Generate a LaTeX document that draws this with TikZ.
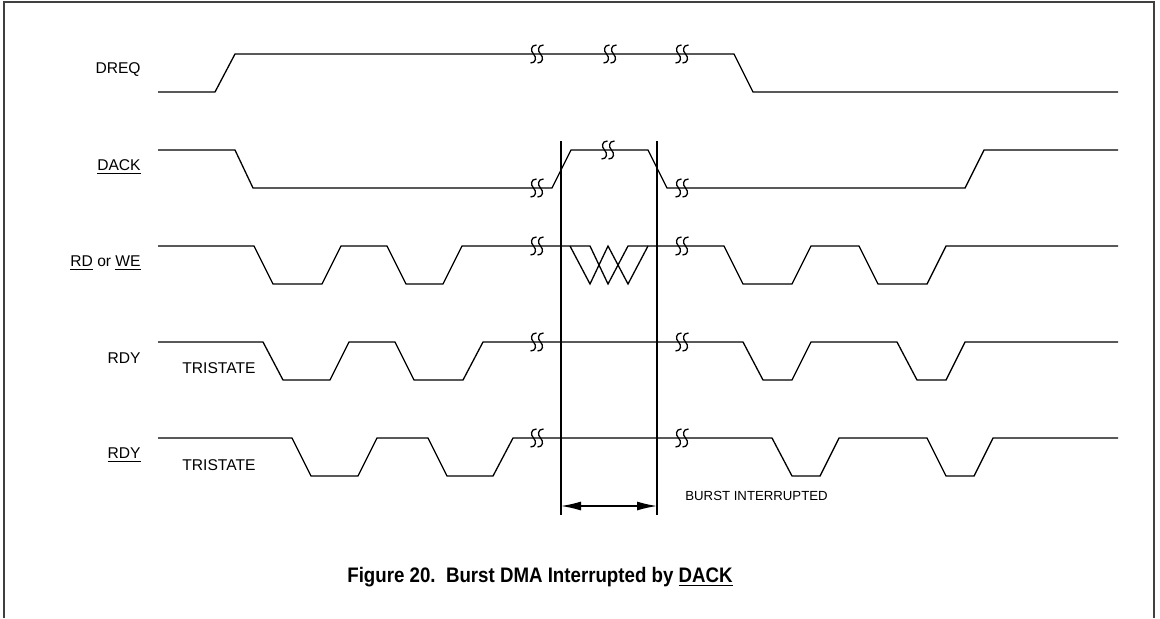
\documentclass[tikz,border=0pt]{standalone}
\usepackage{fontspec}
\usepackage{graphicx}
\setmainfont{Liberation Sans}
\usetikzlibrary{positioning,arrows.meta,calc}

% break mark on a signal line
\newcommand{\cutmark}[1]{%
  \foreach \dx in {-3.5,3.5}{
    \draw[wave] ($(#1)+(\dx,0)+(3,-9)$) .. controls ($(#1)+(\dx,0)+(-3,-9)$) and ($(#1)+(\dx,0)+(-3,-3)$) .. ($(#1)+(\dx,0)$)
      .. controls ($(#1)+(\dx,0)+(3,3)$) and ($(#1)+(\dx,0)+(3,9)$) .. ($(#1)+(\dx,0)+(-3,9)$);}}

\begin{document}
\begin{tikzpicture}[x=0.5pt, y=-0.5pt, >=Stealth,
  wave/.style={line width=0.65pt, black},
  sig/.style={font=\fontsize{7.8}{9}\selectfont, inner sep=0pt, anchor=east},
  note/.style={font=\fontsize{7.8}{9}\selectfont, inner sep=0pt, anchor=west},
  frame/.style={line width=0.75pt, black!75}]
  \useasboundingbox (0,0) rectangle (1160,618);
  \draw[frame] (4,618) -- (4,2) -- (1154,2) -- (1154,618);

  % signal names
  \node[sig] (dreq) at (141,70)  {DREQ};
  \node[sig] (dack) at (141,167) {\underline{DACK}};
  \node[sig] (rdwe) at (141,263) {\underline{RD} or \underline{WE}};
  \node[sig] (rdy)  at (141,358) {RDY};
  \node[note] (tri1) at (182,368) {TRISTATE};
  \node[sig] (nrdy) at (141,455) {\underline{RDY}};
  \node[note] (tri2) at (182,465) {TRISTATE};

  % waveforms
  \draw[wave] (158,92) -- (215,92) -- (235,54) -- (734,54) -- (753,92) -- (1118,92);
  \draw[wave] (158,150) -- (235,150) -- (253,188) -- (552,188) -- (571,150) -- (648,150)
    -- (667,188) -- (965,188) -- (984,150) -- (1118,150);
  \draw[wave] (158,246) -- (254,246) -- (273,284) -- (322,284) -- (341,246) -- (387,246)
    -- (406,284) -- (443,284) -- (462,246) -- (590,246) -- (608,284) -- (628,246)
    -- (724,246) -- (743,284) -- (792,284) -- (811,246) -- (859,246) -- (878,284)
    -- (927,284) -- (946,246) -- (1118,246);
  \draw[wave] (570,246) -- (590,284) -- (608,246) -- (628,284) -- (648,246);
  \draw[wave] (158,342) -- (263,342) -- (283,380) -- (330,380) -- (349,342) -- (395,342)
    -- (414,380) -- (463,380) -- (483,342) -- (743,342) -- (763,380) -- (792,380)
    -- (811,342) -- (897,342) -- (917,380) -- (946,380) -- (965,342) -- (1118,342);
  \draw[wave] (158,438) -- (292,438) -- (311,476) -- (358,476) -- (377,438) -- (428,438)
    -- (447,476) -- (493,476) -- (513,438) -- (772,438) -- (792,476) -- (820,476)
    -- (839,438) -- (927,438) -- (946,476) -- (974,476) -- (993,438) -- (1118,438);

  % breaks
  \foreach \p in {{537,54},{610,54},{682,54},{537,188},{608,150},{682,188},
                  {537,246},{682,246},{537,342},{682,342},{537,438},{682,438}}{
    \cutmark{\p}}

  % interrupt window
  \coordinate (wl) at (561,141);
  \coordinate (wr) at (657,141);
  \draw[wave] (wl) -- ++(0,374) coordinate (wlb);
  \draw[wave] (wr) -- ++(0,374) coordinate (wrb);
  \draw[wave, {Latex[length=10pt,width=4.5pt]}-{Latex[length=10pt,width=4.5pt]}]
    ($(wlb)+(0,-9)$) -- ($(wrb)+(0,-9)$);
  \node[note, font=\fontsize{6.6}{8}\selectfont] (burst) at (685,496) {BURST INTERRUPTED};

  \node[font=\fontsize{10.5}{12}\bfseries\selectfont, inner sep=0pt, anchor=base] (cap) at (540,582)
    {\scalebox{0.89}[1]{Figure 20.\ \ Burst DMA Interrupted by \underline{DACK}}};
\end{tikzpicture}
\end{document}
